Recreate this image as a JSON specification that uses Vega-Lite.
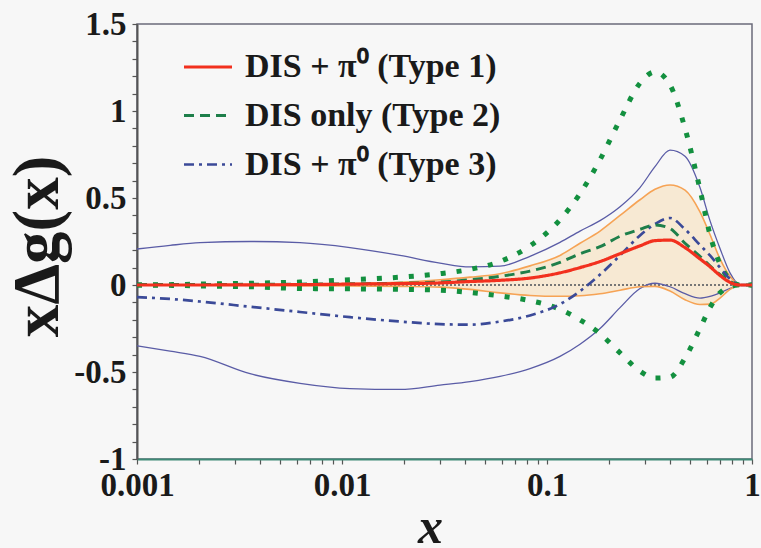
{
  "$schema": "https://vega.github.io/schema/vega-lite/v6.json",
  "width": 615,
  "height": 435,
  "autosize": {"type": "none"},
  "padding": {"left": 137, "top": 24, "right": 9, "bottom": 89},
  "background": "#f7f7f7",
  "config": {
    "view": {"stroke": "#6b6b7b", "strokeWidth": 1.5},
    "font": "Liberation Serif",
    "axis": {
      "labelFont": "Liberation Serif", "labelFontWeight": "bold", "labelFontSize": 33, "labelColor": "#1a1a1a",
      "tickColor": "#555555", "tickWidth": 1.2, "tickSize": 5,
      "titleFont": "Liberation Serif", "titleFontWeight": "bold", "titleColor": "#1a1a1a",
      "grid": false, "domainWidth": 2, "labelOverlap": false, "labelFlush": false
    },
    "axisX": {"domainColor": "#3e8a76", "labelPadding": 5},
    "axisY": {"domainColor": "#555555", "labelPadding": 6},
    "legend": {
      "orient": "none", "legendX": 45, "legendY": 17,
      "labelFont": "Liberation Serif", "labelFontWeight": "bold", "labelFontSize": 34, "labelColor": "#1a1a1a",
      "symbolType": "stroke", "symbolSize": 2304, "symbolStrokeWidth": 2.5, "labelOffset": 11, "rowPadding": 6, "labelLimit": 400
    }
  },
  "data": {"values": [
    {"x": 0.001, "t1": 0, "lo1": 0, "hi1": 0, "t2": 0.003, "lo2": 0, "hi2": 0, "t3": -0.07, "lo3": -0.349, "hi3": 0.207},
    {"x": 0.00145, "t1": 0, "lo1": 0, "hi1": 0, "t2": 0.003, "lo2": -0.002, "hi2": 0.002, "t3": -0.08, "lo3": -0.38, "hi3": 0.228},
    {"x": 0.00203, "t1": 0, "lo1": 0, "hi1": 0, "t2": 0.003, "lo2": -0.005, "hi2": 0.005, "t3": -0.095, "lo3": -0.41, "hi3": 0.243},
    {"x": 0.00356, "t1": 0.001, "lo1": -0.002, "hi1": 0.003, "t2": 0.004, "lo2": -0.01, "hi2": 0.01, "t3": -0.125, "lo3": -0.51, "hi3": 0.25},
    {"x": 0.00624, "t1": 0.002, "lo1": -0.004, "hi1": 0.005, "t2": 0.005, "lo2": -0.02, "hi2": 0.017, "t3": -0.155, "lo3": -0.565, "hi3": 0.243},
    {"x": 0.01094, "t1": 0.005, "lo1": -0.006, "hi1": 0.009, "t2": 0.007, "lo2": -0.022, "hi2": 0.03, "t3": -0.185, "lo3": -0.595, "hi3": 0.215},
    {"x": 0.01918, "t1": 0.008, "lo1": -0.008, "hi1": 0.016, "t2": 0.01, "lo2": -0.025, "hi2": 0.045, "t3": -0.21, "lo3": -0.6, "hi3": 0.17},
    {"x": 0.03006, "t1": 0.012, "lo1": -0.012, "hi1": 0.03, "t2": 0.017, "lo2": -0.03, "hi2": 0.065, "t3": -0.225, "lo3": -0.575, "hi3": 0.126},
    {"x": 0.04211, "t1": 0.02, "lo1": -0.025, "hi1": 0.045, "t2": 0.03, "lo2": -0.043, "hi2": 0.09, "t3": -0.228, "lo3": -0.555, "hi3": 0.104},
    {"x": 0.05899, "t1": 0.027, "lo1": -0.045, "hi1": 0.065, "t2": 0.05, "lo2": -0.063, "hi2": 0.135, "t3": -0.21, "lo3": -0.525, "hi3": 0.108},
    {"x": 0.08263, "t1": 0.04, "lo1": -0.06, "hi1": 0.11, "t2": 0.08, "lo2": -0.09, "hi2": 0.225, "t3": -0.175, "lo3": -0.48, "hi3": 0.165},
    {"x": 0.1157, "t1": 0.07, "lo1": -0.065, "hi1": 0.17, "t2": 0.13, "lo2": -0.14, "hi2": 0.375, "t3": -0.11, "lo3": -0.41, "hi3": 0.245},
    {"x": 0.1449, "t1": 0.1, "lo1": -0.062, "hi1": 0.24, "t2": 0.18, "lo2": -0.2, "hi2": 0.525, "t3": -0.035, "lo3": -0.34, "hi3": 0.31},
    {"x": 0.1814, "t1": 0.135, "lo1": -0.05, "hi1": 0.31, "t2": 0.22, "lo2": -0.28, "hi2": 0.72, "t3": 0.06, "lo3": -0.25, "hi3": 0.37},
    {"x": 0.2271, "t1": 0.18, "lo1": -0.03, "hi1": 0.4, "t2": 0.28, "lo2": -0.39, "hi2": 0.95, "t3": 0.17, "lo3": -0.13, "hi3": 0.45},
    {"x": 0.2842, "t1": 0.225, "lo1": -0.01, "hi1": 0.49, "t2": 0.32, "lo2": -0.495, "hi2": 1.16, "t3": 0.285, "lo3": -0.02, "hi3": 0.56},
    {"x": 0.3363, "t1": 0.255, "lo1": -0.008, "hi1": 0.55, "t2": 0.345, "lo2": -0.535, "hi2": 1.225, "t3": 0.35, "lo3": 0.01, "hi3": 0.68},
    {"x": 0.3981, "t1": 0.258, "lo1": -0.035, "hi1": 0.575, "t2": 0.325, "lo2": -0.53, "hi2": 1.15, "t3": 0.385, "lo3": -0.01, "hi3": 0.775},
    {"x": 0.4712, "t1": 0.215, "lo1": -0.085, "hi1": 0.545, "t2": 0.24, "lo2": -0.42, "hi2": 0.9, "t3": 0.32, "lo3": -0.05, "hi3": 0.74},
    {"x": 0.5575, "t1": 0.15, "lo1": -0.112, "hi1": 0.42, "t2": 0.165, "lo2": -0.25, "hi2": 0.55, "t3": 0.23, "lo3": -0.075, "hi3": 0.56},
    {"x": 0.6238, "t1": 0.105, "lo1": -0.11, "hi1": 0.29, "t2": 0.11, "lo2": -0.13, "hi2": 0.29, "t3": 0.17, "lo3": -0.065, "hi3": 0.37},
    {"x": 0.6981, "t1": 0.055, "lo1": -0.075, "hi1": 0.15, "t2": 0.06, "lo2": -0.045, "hi2": 0.12, "t3": 0.1, "lo3": -0.045, "hi3": 0.21},
    {"x": 0.781, "t1": 0.015, "lo1": -0.025, "hi1": 0.05, "t2": 0.02, "lo2": -0.01, "hi2": 0.03, "t3": 0.035, "lo3": -0.02, "hi3": 0.07},
    {"x": 0.8739, "t1": 0, "lo1": 0, "hi1": 0, "t2": 0, "lo2": 0, "hi2": 0, "t3": 0, "lo3": 0, "hi3": 0},
    {"x": 1.0, "t1": 0, "lo1": 0, "hi1": 0, "t2": 0, "lo2": 0, "hi2": 0, "t3": 0, "lo3": 0, "hi3": 0}
  ]},
  "encoding": {
    "x": {
      "field": "x", "type": "quantitative",
      "scale": {"type": "log", "domain": [0.001, 1]},
      "title": "x",
      "axis": {
        "values": [0.001,0.002,0.003,0.004,0.005,0.006,0.007,0.008,0.009,0.01,0.02,0.03,0.04,0.05,0.06,0.07,0.08,0.09,0.1,0.2,0.3,0.4,0.5,0.6,0.7,0.8,0.9,1],
        "labelExpr": "indexof([0.001,0.01,0.1,1], datum.value) >= 0 ? '' + datum.value : ''",
        "labelOverlap": false,
        "titleFontStyle": "italic", "titleFontSize": 50, "titleX": 293, "titleY": 83, "titleBaseline": "alphabetic", "titleAlign": "center"
      }
    }
  },
  "layer": [
    {
      "mark": {"type": "area", "color": "#f9d6a2", "opacity": 0.42, "interpolate": "monotone"},
      "encoding": {
        "y": {"field": "lo1", "type": "quantitative", "title": "xΔg(x)", "scale": {"domain": [-1, 1.5], "nice": false, "zero": false},
          "axis": {"values": [-1,-0.9,-0.8,-0.7,-0.6,-0.5,-0.4,-0.3,-0.2,-0.1,0,0.1,0.2,0.3,0.4,0.5,0.6,0.7,0.8,0.9,1,1.1,1.2,1.3,1.4,1.5], "labelExpr": "indexof([-1,-0.5,0,0.5,1,1.5], datum.value) >= 0 ? '' + datum.value : ''", "labelOverlap": false, "titleFontSize": 65, "titleX": -80, "titleY": 222, "titleBaseline": "alphabetic", "titleAlign": "center", "titleAngle": -90}},
        "y2": {"field": "hi1"}
      }
    },
    {
      "mark": {"type": "rule", "color": "#777777", "strokeDash": [2, 2], "strokeWidth": 1},
      "encoding": {
        "y": {"datum": 0, "type": "quantitative", "title": "xΔg(x)", "scale": {"domain": [-1, 1.5], "nice": false, "zero": false},
          "axis": {"values": [-1,-0.9,-0.8,-0.7,-0.6,-0.5,-0.4,-0.3,-0.2,-0.1,0,0.1,0.2,0.3,0.4,0.5,0.6,0.7,0.8,0.9,1,1.1,1.2,1.3,1.4,1.5], "labelExpr": "indexof([-1,-0.5,0,0.5,1,1.5], datum.value) >= 0 ? '' + datum.value : ''", "labelOverlap": false, "titleFontSize": 65, "titleX": -80, "titleY": 222, "titleBaseline": "alphabetic", "titleAlign": "center", "titleAngle": -90}},
        "x": null
      }
    },
    {
      "mark": {"type": "line", "color": "#5a5ca6", "strokeWidth": 1.3, "interpolate": "monotone"},
      "encoding": {
        "y": {"field": "hi3", "type": "quantitative", "title": "xΔg(x)", "scale": {"domain": [-1, 1.5], "nice": false, "zero": false},
          "axis": {"values": [-1,-0.9,-0.8,-0.7,-0.6,-0.5,-0.4,-0.3,-0.2,-0.1,0,0.1,0.2,0.3,0.4,0.5,0.6,0.7,0.8,0.9,1,1.1,1.2,1.3,1.4,1.5], "labelExpr": "indexof([-1,-0.5,0,0.5,1,1.5], datum.value) >= 0 ? '' + datum.value : ''", "labelOverlap": false, "titleFontSize": 65, "titleX": -80, "titleY": 222, "titleBaseline": "alphabetic", "titleAlign": "center", "titleAngle": -90}}
      }
    },
    {
      "mark": {"type": "line", "color": "#5a5ca6", "strokeWidth": 1.3, "interpolate": "monotone"},
      "encoding": {
        "y": {"field": "lo3", "type": "quantitative", "title": "xΔg(x)", "scale": {"domain": [-1, 1.5], "nice": false, "zero": false},
          "axis": {"values": [-1,-0.9,-0.8,-0.7,-0.6,-0.5,-0.4,-0.3,-0.2,-0.1,0,0.1,0.2,0.3,0.4,0.5,0.6,0.7,0.8,0.9,1,1.1,1.2,1.3,1.4,1.5], "labelExpr": "indexof([-1,-0.5,0,0.5,1,1.5], datum.value) >= 0 ? '' + datum.value : ''", "labelOverlap": false, "titleFontSize": 65, "titleX": -80, "titleY": 222, "titleBaseline": "alphabetic", "titleAlign": "center", "titleAngle": -90}}
      }
    },
    {
      "mark": {"type": "line", "color": "#f6a355", "strokeWidth": 1.6, "interpolate": "monotone"},
      "encoding": {
        "y": {"field": "hi1", "type": "quantitative", "title": "xΔg(x)", "scale": {"domain": [-1, 1.5], "nice": false, "zero": false},
          "axis": {"values": [-1,-0.9,-0.8,-0.7,-0.6,-0.5,-0.4,-0.3,-0.2,-0.1,0,0.1,0.2,0.3,0.4,0.5,0.6,0.7,0.8,0.9,1,1.1,1.2,1.3,1.4,1.5], "labelExpr": "indexof([-1,-0.5,0,0.5,1,1.5], datum.value) >= 0 ? '' + datum.value : ''", "labelOverlap": false, "titleFontSize": 65, "titleX": -80, "titleY": 222, "titleBaseline": "alphabetic", "titleAlign": "center", "titleAngle": -90}}
      }
    },
    {
      "mark": {"type": "line", "color": "#f6a355", "strokeWidth": 1.6, "interpolate": "monotone"},
      "encoding": {
        "y": {"field": "lo1", "type": "quantitative", "title": "xΔg(x)", "scale": {"domain": [-1, 1.5], "nice": false, "zero": false},
          "axis": {"values": [-1,-0.9,-0.8,-0.7,-0.6,-0.5,-0.4,-0.3,-0.2,-0.1,0,0.1,0.2,0.3,0.4,0.5,0.6,0.7,0.8,0.9,1,1.1,1.2,1.3,1.4,1.5], "labelExpr": "indexof([-1,-0.5,0,0.5,1,1.5], datum.value) >= 0 ? '' + datum.value : ''", "labelOverlap": false, "titleFontSize": 65, "titleX": -80, "titleY": 222, "titleBaseline": "alphabetic", "titleAlign": "center", "titleAngle": -90}}
      }
    },
    {
      "mark": {"type": "line", "color": "#13903f", "strokeWidth": 5, "strokeDash": [5, 11], "strokeCap": "butt", "interpolate": "monotone"},
      "encoding": {
        "y": {"field": "hi2", "type": "quantitative", "title": "xΔg(x)", "scale": {"domain": [-1, 1.5], "nice": false, "zero": false},
          "axis": {"values": [-1,-0.9,-0.8,-0.7,-0.6,-0.5,-0.4,-0.3,-0.2,-0.1,0,0.1,0.2,0.3,0.4,0.5,0.6,0.7,0.8,0.9,1,1.1,1.2,1.3,1.4,1.5], "labelExpr": "indexof([-1,-0.5,0,0.5,1,1.5], datum.value) >= 0 ? '' + datum.value : ''", "labelOverlap": false, "titleFontSize": 65, "titleX": -80, "titleY": 222, "titleBaseline": "alphabetic", "titleAlign": "center", "titleAngle": -90}}
      }
    },
    {
      "mark": {"type": "line", "color": "#13903f", "strokeWidth": 5, "strokeDash": [5, 11], "strokeCap": "butt", "interpolate": "monotone"},
      "encoding": {
        "y": {"field": "lo2", "type": "quantitative", "title": "xΔg(x)", "scale": {"domain": [-1, 1.5], "nice": false, "zero": false},
          "axis": {"values": [-1,-0.9,-0.8,-0.7,-0.6,-0.5,-0.4,-0.3,-0.2,-0.1,0,0.1,0.2,0.3,0.4,0.5,0.6,0.7,0.8,0.9,1,1.1,1.2,1.3,1.4,1.5], "labelExpr": "indexof([-1,-0.5,0,0.5,1,1.5], datum.value) >= 0 ? '' + datum.value : ''", "labelOverlap": false, "titleFontSize": 65, "titleX": -80, "titleY": 222, "titleBaseline": "alphabetic", "titleAlign": "center", "titleAngle": -90}}
      }
    },
    {
      "transform": [{"fold": ["t3", "t2", "t1"], "as": ["s", "v"]}],
      "mark": {"type": "line", "interpolate": "monotone"},
      "encoding": {
        "y": {"field": "v", "type": "quantitative", "title": "xΔg(x)", "scale": {"domain": [-1, 1.5], "nice": false, "zero": false},
          "axis": {"values": [-1,-0.9,-0.8,-0.7,-0.6,-0.5,-0.4,-0.3,-0.2,-0.1,0,0.1,0.2,0.3,0.4,0.5,0.6,0.7,0.8,0.9,1,1.1,1.2,1.3,1.4,1.5], "labelExpr": "indexof([-1,-0.5,0,0.5,1,1.5], datum.value) >= 0 ? '' + datum.value : ''", "labelOverlap": false, "titleFontSize": 65, "titleX": -80, "titleY": 222, "titleBaseline": "alphabetic", "titleAlign": "center", "titleAngle": -90}},
        "color": {
          "field": "s", "type": "nominal",
          "scale": {"domain": ["t1", "t2", "t3"], "range": ["#f2301e", "#1e7f4a", "#3b4a98"]},
          "legend": {"title": null, "labelExpr": "datum.label == 't1' ? 'DIS + π⁰ (Type 1)' : datum.label == 't2' ? 'DIS only (Type 2)' : 'DIS + π⁰ (Type 3)'"}
        },
        "strokeDash": {
          "field": "s", "type": "nominal",
          "scale": {"domain": ["t1", "t2", "t3"], "range": [[1, 0], [10, 6], [10, 5, 3, 5]]},
          "legend": {"title": null, "labelExpr": "datum.label == 't1' ? 'DIS + π⁰ (Type 1)' : datum.label == 't2' ? 'DIS only (Type 2)' : 'DIS + π⁰ (Type 3)'"}
        },
        "strokeWidth": {
          "field": "s", "type": "nominal",
          "scale": {"domain": ["t1", "t2", "t3"], "range": [3.2, 2.7, 2.7]},
          "legend": null
        }
      }
    }
  ]
}
